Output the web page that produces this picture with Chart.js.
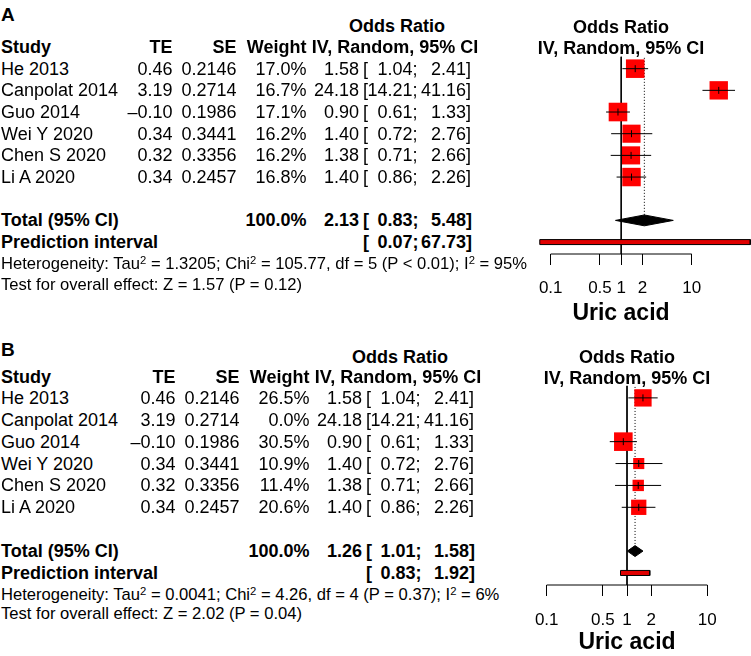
<!DOCTYPE html>
<html>
<head>
<meta charset="utf-8">
<script src="https://cdn.jsdelivr.net/npm/chart.js@4/dist/chart.umd.min.js"></script>
<style>
html, body { margin: 0; padding: 0; background: #fff; }
body { width: 751px; height: 656px; position: relative; overflow: hidden;
  font-family: "Liberation Sans", Arial, Helvetica, sans-serif; color: #000; }
.t { position: absolute; white-space: nowrap; }
.t sup { position: relative; top: -0.45em; font-size: 0.68em; vertical-align: baseline; line-height: 0; }
canvas { position: absolute; }
</style>
</head>
<body>
<canvas id="plotA" width="260" height="287" style="left:491px;top:47px"></canvas>
<canvas id="plotB" width="248" height="280" style="left:503px;top:376px"></canvas>
<script>
// study level data (same for both panels)
const studies = ["He 2013", "Canpolat 2014", "Guo 2014", "Wei Y 2020", "Chen S 2020", "Li A 2020"];
const te = [0.46, 3.19, -0.10, 0.34, 0.32, 0.34];
const se = [0.2146, 0.2714, 0.1986, 0.3441, 0.3356, 0.2457];
const orEst = [1.58, 24.18, 0.90, 1.40, 1.38, 1.40];
const orLow = [1.04, 14.21, 0.61, 0.72, 0.71, 0.86];
const orUpp = [2.41, 41.16, 1.33, 2.76, 2.66, 2.26];

// panel A: all studies
const weightA = [17.0, 16.7, 17.1, 16.2, 16.2, 16.8];
const totalA = [2.13, 0.83, 5.48];
const predA = [0.07, 67.73];
const hetA = ["1.3205", "105.77", "5", "P &lt; 0.01", "95%"];
const testA = ["1.57", "P = 0.12"];

// panel B: Canpolat 2014 gets no weight
const weightB = [26.5, 0.0, 30.5, 10.9, 11.4, 20.6];
const totalB = [1.26, 1.01, 1.58];
const predB = [0.83, 1.92];
const hetB = ["0.0041", "4.26", "4", "P = 0.37", "6%"];
const testB = ["2.02", "P = 0.04"];

const tickVals = [0.1, 0.5, 1, 2, 10];
const axisTitle = "Uric acid";

const FONT = "'Liberation Sans', Arial, Helvetica, sans-serif";
Chart.defaults.font.family = FONT;
Chart.defaults.color = "#000";

function txt(x, y, s, align, bold, size) {
  size = size || 18;
  const h = Math.round(size * 1.2);
  const d = document.createElement("div");
  d.className = "t";
  d.innerHTML = s;
  d.style.fontSize = size + "px";
  d.style.lineHeight = h + "px";
  d.style.top = (y - h / 2) + "px";
  if (bold) d.style.fontWeight = "bold";
  if (align === "r") {
    d.style.right = (751 - x) + "px";
  } else if (align === "c") {
    d.style.left = (x - 300) + "px";
    d.style.width = "600px";
    d.style.textAlign = "center";
  } else {
    d.style.left = x + "px";
  }
  document.body.appendChild(d);
}

function fmtTE(v) {
  return (v < 0 ? "\u2013" : "") + Math.abs(v).toFixed(2);
}

function ciText(y, est, lo, hi, c, bold) {
  if (est !== null) txt(c.estR, y, est.toFixed(2), "r", bold);
  txt(c.brL, y, "[", "l", bold);
  txt(c.loR, y, lo.toFixed(2), "r", bold);
  txt(c.loR, y, ";", "l", bold);
  txt(c.upR, y, hi.toFixed(2), "r", bold);
  txt(c.upR, y, "]", "l", bold);
}

function tableText(p) {
  const c = { teR: 172.5 + p.dx, seR: 236.5 + p.dx, wR: 306.5 + p.dx,
              estR: 359 + p.dx, brL: 363 + p.dx, loR: 412.5 + p.dx, upR: 466 + p.dx };
  const rowY = i => p.rowY0 + p.rowStep * i;
  txt(1, p.labelY, p.label, "l", true, 19);
  txt(397 + p.dx, p.hdr1, "Odds Ratio", "c", true);
  txt(1, p.hdr2, "Study", "l", true);
  txt(c.teR, p.hdr2, "TE", "r", true);
  txt(c.seR, p.hdr2, "SE", "r", true);
  txt(c.wR, p.hdr2, "Weight", "r", true);
  txt(395 + p.dx, p.hdr2, "IV, Random, 95% CI", "c", true);
  // header over the plot
  txt(p.plotC, p.hdr1 + 0.5, "Odds Ratio", "c", true);
  txt(p.plotC, p.hdr2 + 1, "IV, Random, 95% CI", "c", true);
  for (let i = 0; i < studies.length; i++) {
    const y = rowY(i);
    txt(1, y, studies[i], "l");
    txt(c.teR, y, fmtTE(te[i]), "r");
    txt(c.seR, y, se[i].toFixed(4), "r");
    txt(c.wR, y, p.weight[i].toFixed(1) + "%", "r");
    ciText(y, orEst[i], orLow[i], orUpp[i], c, false);
  }
  txt(1, rowY(7), "Total (95% CI)", "l", true);
  txt(c.wR, rowY(7), "100.0%", "r", true);
  ciText(rowY(7), p.total[0], p.total[1], p.total[2], c, true);
  txt(1, rowY(8), "Prediction interval", "l", true);
  ciText(rowY(8), null, p.pred[0], p.pred[1], c, true);
  const h = p.het;
  txt(1, p.hetY, "Heterogeneity: Tau<sup>2</sup> = " + h[0] + "; Chi<sup>2</sup> = " + h[1] +
      ", df = " + h[2] + " (" + h[3] + "); I<sup>2</sup> = " + h[4], "l", false, 16.6);
  txt(1, p.testY, "Test for overall effect: Z = " + p.test[0] + " (" + p.test[1] + ")", "l", false, 16.6);
}

function line(data, extra) {
  return Object.assign({ data: data, showLine: true, pointRadius: 0, borderColor: "#000",
                         borderWidth: 1, fill: false }, extra || {});
}

function makePlot(id, p) {
  const wmax = Math.max.apply(null, p.weight);
  const ds = [];
  ds.push(line([{ x: 1, y: -0.55 }, { x: 1, y: 8.55 }], { order: 6 }));
  ds.push(line([{ x: p.total[0], y: -0.5 }, { x: p.total[0], y: 6.75 }],
               { borderDash: [1, 2], order: 6 }));
  const sq = [], rad = [], est = [];
  for (let i = 0; i < studies.length; i++) {
    if (p.weight[i] <= 0) continue;
    sq.push({ x: orEst[i], y: i });
    rad.push(9.3 * Math.SQRT2 * Math.sqrt(p.weight[i] / wmax));
    est.push({ x: orEst[i], y: i });
    ds.push(line([{ x: orLow[i], y: i }, { x: orUpp[i], y: i }], { order: 2 }));
  }
  ds.push({ data: sq, showLine: false, pointStyle: "rect", pointRadius: rad,
            backgroundColor: "#ff0000", borderWidth: 0, order: 4 });
  ds.push({ data: est, showLine: false, pointStyle: "line", rotation: 90, pointRadius: 3.5,
            borderColor: "#000", borderWidth: 1, order: 1 });
  const t = p.total;
  ds.push(line([{ x: t[1], y: 7 }, { x: t[0], y: 6.75 }, { x: t[2], y: 7 }, { x: t[0], y: 7.25 }, { x: t[1], y: 7 }],
               { fill: "shape", backgroundColor: "#000", order: 3 }));
  const q = p.pred;
  ds.push(line([{ x: q[0], y: 7.885 }, { x: q[1], y: 7.885 }, { x: q[1], y: 8.115 }, { x: q[0], y: 8.115 }, { x: q[0], y: 7.885 }],
               { fill: "shape", backgroundColor: "#e00000", order: 3 }));
  ds.push(line([{ x: tickVals[0], y: 8.55 }, { x: tickVals[tickVals.length - 1], y: 8.55 }],
               { clip: false, order: 0 }));

  new Chart(document.getElementById(id), {
    type: "scatter",
    data: { datasets: ds },
    options: {
      responsive: false,
      animation: false,
      events: [],
      layout: { padding: 0, autoPadding: false },
      plugins: { legend: { display: false }, tooltip: { enabled: false } },
      scales: {
        x: {
          type: "logarithmic",
          min: p.xmin, max: p.xmax,
          afterBuildTicks: s => { s.ticks = tickVals.map(v => ({ value: v })); },
          afterFit: s => { s.height = p.axisH; },
          border: { display: false },
          grid: { drawOnChartArea: false, drawTicks: true, tickLength: 11, color: "#000", lineWidth: 1 },
          ticks: { autoSkip: false, maxRotation: 0, padding: p.tickPad, color: "#000",
                   font: { size: 17 }, callback: v => String(v) },
          title: { display: true, text: axisTitle, color: "#000",
                   font: { size: 23, weight: "bold" }, padding: { top: 0, bottom: p.titlePad } }
        },
        y: { type: "linear", reverse: true, min: -1, max: 8.55, display: false }
      }
    }
  });
}

const panelA = { label: "A", weight: weightA, total: totalA, pred: predA, het: hetA, test: testA,
  labelY: 14, hdr1: 26, hdr2: 46.5, rowY0: 68.7, rowStep: 21.68, hetY: 264, testY: 284.5,
  dx: 0, plotC: 621, xmin: 0.01423, xmax: 69.35, axisH: 80, tickPad: 13, titlePad: 7 };
const panelB = { label: "B", weight: weightB, total: totalB, pred: predB, het: hetB, test: testB,
  labelY: 349, hdr1: 356.5, hdr2: 376.5, rowY0: 397.9, rowStep: 21.88, hetY: 595, testY: 614,
  dx: 3, plotC: 627, xmin: 0.02856, xmax: 35.01, axisH: 71, tickPad: 14, titlePad: 0 };

tableText(panelA);
tableText(panelB);
makePlot("plotA", panelA);
makePlot("plotB", panelB);
</script>
</body>
</html>
